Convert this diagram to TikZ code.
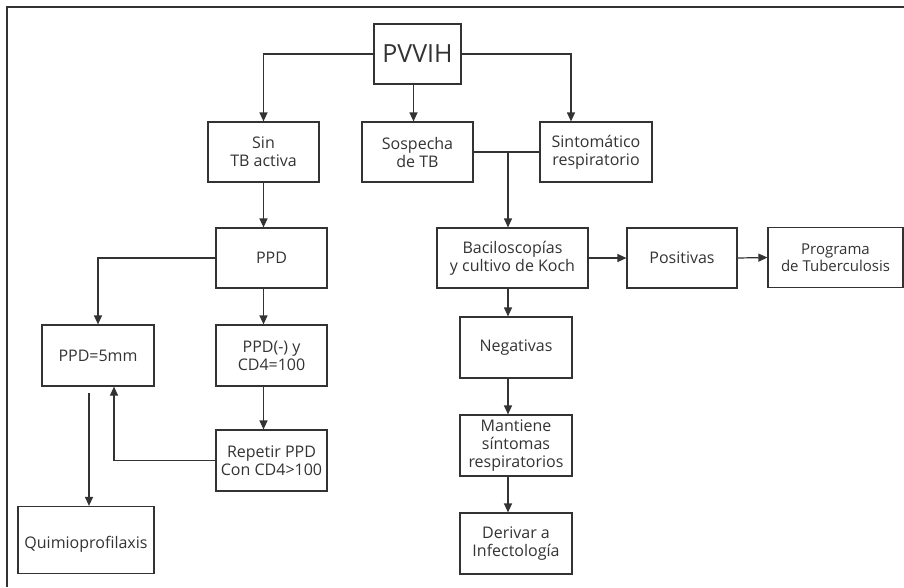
\documentclass[tikz,border=0pt]{standalone}
\usepackage{fontspec}
\setmainfont{Open Sans}
\usetikzlibrary{arrows.meta}
\begin{document}
\begin{tikzpicture}[x=1pt,y=-1pt,
	caja/.style={draw=black!80, line width=1.2pt, minimum width=111pt, minimum height=60pt, align=center, inner sep=2pt, text=black!80, font=\fontsize{16}{18}\selectfont},
	linea/.style={draw=black!80, line width=1.2pt},
	flecha/.style={linea, -{Triangle[length=9pt,width=8pt]}}]
	\useasboundingbox (0,0) rectangle (904,587);
	% marco
	\draw[linea, line width=1.5pt] (7,587) -- (7,7) -- (904,7);
	% primer nivel
	\node[caja, minimum width=87pt, font=\fontsize{25}{28}\selectfont] (pvvih) at (417.5,54) {PVVIH};
	\node[caja] (sin) at (263.5,152) {Sin\\TB activa};
	\node[caja] (sosp) at (417.5,152) {Sospecha\\de TB};
	\node[caja, minimum width=112pt] (sint) at (596,152) {Sintomático\\respiratorio};
	% rama izquierda
	\node[caja] (ppd) at (271.5,258) {PPD};
	\node[caja, minimum width=112pt, minimum height=61pt] (ppdcinco) at (98,355.5) {PPD=5mm};
	\node[caja, minimum height=61pt] (ppdneg) at (271.5,355.5) {PPD(-) y\\CD4=100};
	\node[caja, minimum height=61pt] (repetir) at (271.5,460.5) {Repetir PPD\\Con CD4>100};
	\node[caja, minimum width=136pt, minimum height=67pt] (quimio) at (86,540) {\mbox{}\\[3pt]Quimioprofilaxis};
	% rama derecha
	\node[caja, minimum width=151pt] (baci) at (512.5,258) {Baciloscopías\\y cultivo de Koch};
	\node[caja, minimum width=110pt] (posit) at (682,258) {Positivas};
	\node[caja, minimum width=135pt, font=\fontsize{15}{17}\selectfont] (progr) at (835.5,257.5) {Programa\\de Tuberculosis};
	\node[caja, minimum width=112pt, minimum height=61pt] (negat) at (516,347.5) {Negativas};
	\node[caja, minimum width=112pt, minimum height=61pt] (mant) at (516,445.5) {Mantiene\\síntomas\\respiratorios};
	\node[caja, minimum width=112pt, minimum height=61pt] (deriv) at (516,543.5) {Derivar a\\Infectología};
	\coordinate (union) at (508,152);
	\coordinate (qinicio) at (89,393);
	% conectores
	\draw[flecha] (pvvih.west) -| (sin.north);
	\draw[flecha] ([xshift=-4pt]pvvih.south) -- ([xshift=-4pt]pvvih.south |- sosp.north);
	\draw[flecha] (pvvih.east) -| ([xshift=-25pt]sint.north);
	\draw[linea] (sosp.east) -- (sint.west);
	\draw[flecha] (union) -- (union |- baci.north);
	\draw[flecha] (sin.south) -- (sin.south |- ppd.north);
	\draw[flecha] (ppd.west) -| (ppdcinco.north);
	\draw[flecha] (ppd.south -| sin.south) -- (ppdneg.north -| sin.south);
	\draw[flecha] (ppdneg.south -| sin.south) -- (repetir.north -| sin.south);
	\draw[flecha] (repetir.west) -| ([xshift=16pt]ppdcinco.south);
	\draw[flecha] (qinicio) -- (qinicio |- quimio.north);
	\draw[flecha] (baci.east) -- (posit.west);
	\draw[flecha] (posit.east) -- (progr.west);
	\draw[flecha] (baci.south -| union) -- (negat.north -| union);
	\draw[flecha] (negat.south -| union) -- (mant.north -| union);
	\draw[flecha] (mant.south -| union) -- (deriv.north -| union);
\end{tikzpicture}
\end{document}
